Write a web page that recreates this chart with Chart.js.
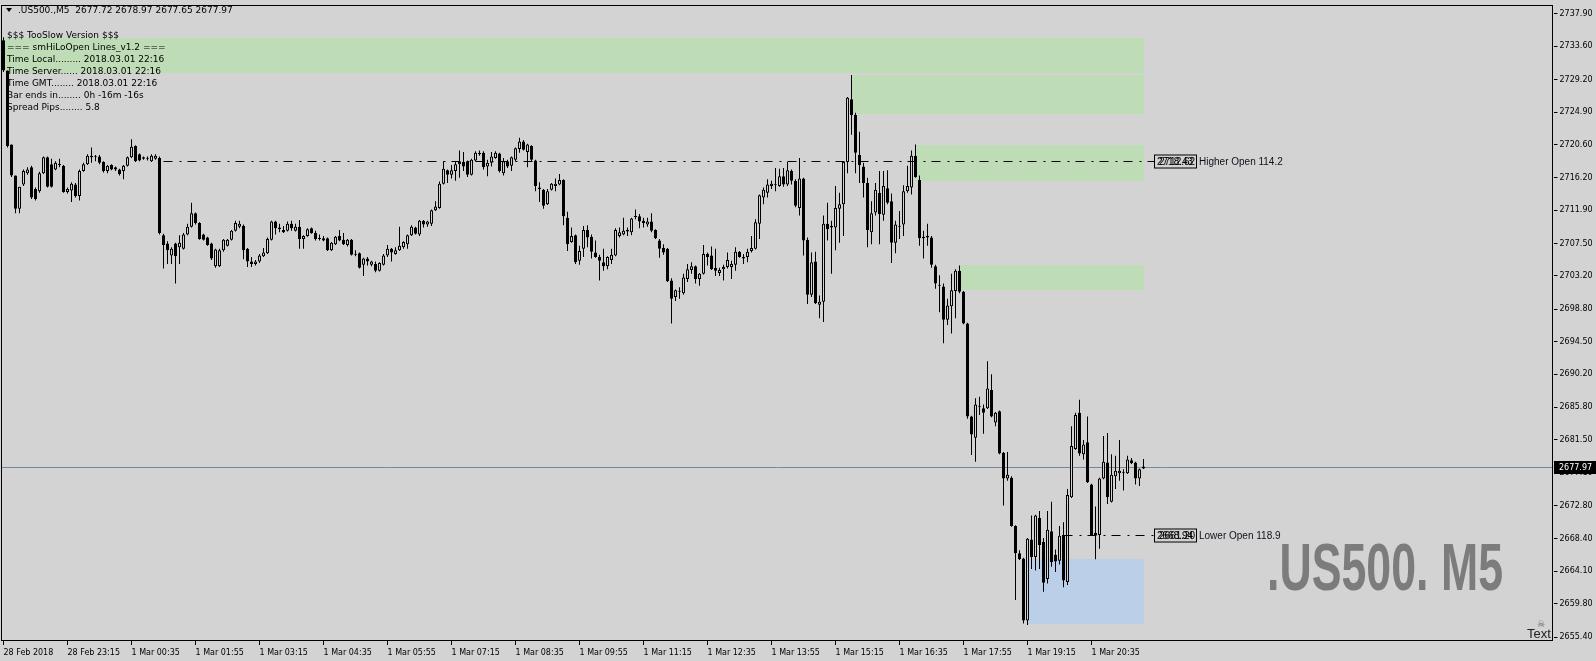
<!DOCTYPE html>
<html>
<head>
<meta charset="utf-8">
<script src="https://cdn.jsdelivr.net/npm/chart.js@4.4.0/dist/chart.umd.min.js"></script>
<style>
  html, body { margin: 0; padding: 0; background: #d3d3d3; overflow: hidden; }
  #wrap { position: relative; width: 1596px; height: 661px; }
</style>
</head>
<body>
<div id="wrap"><canvas id="chart" width="1596" height="661"></canvas></div>
<script>
/* ===== DATA ===== */
const symbolTitle = ".US500.,M5  2677.72 2678.97 2677.65 2677.97";
const watermark = ".US500. M5";

// 5 minute bars, first bar 28 Feb 2018 21:55
const opens = [
  2734.4, 2730.4, 2720.6, 2716.5, 2712.1, 2715.3, 2716.8, 2717.6, 2714.7, 2714.4,
  2716.8, 2718.9, 2718.0, 2717.3, 2718.0, 2717.8, 2714.3, 2714.5, 2715.3, 2713.8,
  2717.1, 2718.0, 2718.9, 2718.9, 2719.0, 2718.3, 2717.1, 2717.9, 2717.6, 2717.3,
  2717.1, 2717.8, 2718.9, 2720.4, 2719.3, 2718.9, 2718.7, 2718.4, 2718.7, 2718.8,
  2708.6, 2707.5, 2705.9, 2707.5, 2707.0, 2706.8, 2708.7, 2709.7, 2711.5, 2710.2,
  2708.7, 2708.3, 2707.5, 2704.5, 2704.5, 2706.6, 2707.2, 2708.0, 2709.2, 2709.7,
  2709.8, 2706.8, 2705.1, 2704.8, 2705.1, 2705.8, 2706.2, 2708.0, 2710.4, 2709.6,
  2709.3, 2709.2, 2710.1, 2709.2, 2709.7, 2708.1, 2708.5, 2709.5, 2708.9, 2708.2,
  2708.2, 2708.2, 2706.6, 2707.4, 2708.5, 2708.0, 2707.3, 2708.0, 2706.1, 2706.2,
  2704.7, 2705.5, 2704.7, 2704.8, 2703.9, 2704.7, 2705.9, 2706.8, 2706.1, 2706.6,
  2707.0, 2707.4, 2708.6, 2709.6, 2708.7, 2710.5, 2710.0, 2710.1, 2711.9, 2712.2,
  2715.4, 2717.2, 2716.6, 2717.1, 2718.0, 2718.3, 2718.4, 2716.6, 2718.5, 2719.5,
  2719.5, 2717.7, 2718.2, 2718.8, 2719.4, 2716.8, 2718.3, 2717.8, 2718.6, 2720.0,
  2721.0, 2719.6, 2720.4, 2718.5, 2714.9, 2714.6, 2712.7, 2714.6, 2715.1, 2715.3,
  2715.9, 2710.9, 2707.7, 2708.6, 2705.2, 2706.8, 2709.3, 2708.4, 2706.3, 2705.7,
  2705.0, 2704.5, 2705.3, 2705.9, 2708.5, 2708.7, 2709.1, 2709.0, 2711.0, 2711.1,
  2710.5, 2710.0, 2710.4, 2709.3, 2707.9, 2706.9, 2706.8, 2702.6, 2700.4, 2701.1,
  2700.9, 2702.8, 2704.0, 2704.5, 2702.8, 2703.5, 2706.1, 2705.9, 2704.3, 2703.6,
  2704.1, 2704.4, 2704.4, 2704.7, 2706.4, 2705.7, 2705.7, 2706.5, 2706.8, 2710.1,
  2713.6, 2714.2, 2715.1, 2715.3, 2715.1, 2716.4, 2715.3, 2717.1, 2715.8, 2712.2,
  2716.1, 2708.0, 2700.7, 2705.1, 2699.4, 2699.8, 2710.1, 2709.8, 2709.6, 2712.1,
  2712.7, 2718.3, 2726.6, 2724.5, 2719.2, 2717.7, 2715.5, 2709.0, 2711.6, 2714.2,
  2711.3, 2714.8, 2713.1, 2707.6, 2709.8, 2710.0, 2714.4, 2714.9, 2719.1, 2715.9,
  2708.4, 2708.3, 2708.3, 2704.5, 2702.0, 2701.8, 2697.4, 2699.2, 2701.2, 2703.9,
  2701.1, 2696.9, 2684.6, 2681.8, 2686.0, 2685.7, 2685.7, 2688.1, 2683.8, 2685.3,
  2679.8, 2676.4, 2676.5, 2670.1, 2666.5, 2665.8, 2657.6, 2668.3, 2666.0, 2671.2,
  2668.0, 2663.1, 2669.4, 2666.3, 2665.5, 2668.9, 2662.7, 2673.9, 2680.3, 2685.1,
  2679.6, 2681.2, 2675.6, 2669.2, 2668.9, 2676.4, 2678.5, 2673.3, 2676.7, 2677.1,
  2677.2, 2677.1, 2678.8, 2678.5, 2676.4, 2677.72
];
const highs = [
  2734.8, 2730.4, 2720.6, 2716.5, 2715.0, 2717.3, 2717.6, 2717.8, 2714.9, 2717.0,
  2719.0, 2719.0, 2718.7, 2718.4, 2718.7, 2717.9, 2714.9, 2715.6, 2715.5, 2717.3,
  2718.2, 2719.3, 2720.2, 2719.2, 2719.2, 2718.4, 2717.9, 2718.0, 2717.7, 2717.4,
  2717.9, 2719.0, 2721.3, 2720.5, 2719.4, 2719.0, 2719.0, 2719.3, 2719.3, 2719.0,
  2708.8, 2707.8, 2707.0, 2707.6, 2708.6, 2708.9, 2710.1, 2712.9, 2711.6, 2710.3,
  2708.8, 2708.4, 2707.6, 2706.8, 2706.8, 2708.1, 2708.1, 2709.3, 2710.5, 2710.5,
  2710.0, 2706.9, 2705.7, 2705.3, 2706.1, 2706.9, 2708.3, 2710.5, 2710.5, 2710.1,
  2709.8, 2710.4, 2710.5, 2710.1, 2710.6, 2708.6, 2709.5, 2709.6, 2709.2, 2708.7,
  2708.5, 2708.3, 2707.7, 2708.5, 2709.3, 2708.9, 2708.1, 2708.1, 2706.6, 2706.3,
  2705.6, 2705.7, 2705.2, 2705.1, 2705.0, 2706.1, 2707.3, 2706.9, 2707.0, 2709.7,
  2707.8, 2708.7, 2709.9, 2709.7, 2710.6, 2710.6, 2710.5, 2712.0, 2713.1, 2715.7,
  2718.4, 2717.3, 2717.9, 2718.4, 2719.8, 2719.6, 2718.5, 2718.7, 2719.7, 2719.8,
  2719.7, 2718.6, 2719.6, 2719.7, 2719.5, 2718.8, 2718.6, 2719.0, 2720.2, 2721.5,
  2721.2, 2720.7, 2720.5, 2718.6, 2715.6, 2714.7, 2714.7, 2715.5, 2716.1, 2716.7,
  2716.0, 2711.7, 2709.6, 2708.7, 2707.2, 2709.8, 2709.9, 2708.7, 2707.9, 2706.0,
  2706.8, 2705.8, 2706.8, 2709.5, 2709.6, 2710.9, 2709.6, 2710.9, 2712.0, 2711.4,
  2710.9, 2710.9, 2711.5, 2709.4, 2708.1, 2707.4, 2706.9, 2702.9, 2701.4, 2701.7,
  2703.5, 2704.8, 2705.0, 2704.6, 2703.6, 2707.3, 2706.3, 2707.1, 2706.8, 2704.3,
  2704.7, 2706.3, 2705.2, 2707.0, 2706.5, 2706.1, 2706.8, 2708.5, 2710.7, 2714.0,
  2714.9, 2716.0, 2715.8, 2717.5, 2717.4, 2717.5, 2718.3, 2717.3, 2716.0, 2718.8,
  2716.2, 2708.3, 2706.3, 2706.4, 2700.6, 2711.2, 2712.9, 2710.5, 2715.1, 2714.2,
  2718.4, 2726.9, 2729.8, 2724.8, 2722.3, 2718.2, 2716.2, 2713.1, 2715.5, 2717.1,
  2717.1, 2717.2, 2714.1, 2710.5, 2711.8, 2715.2, 2717.8, 2719.8, 2720.6, 2716.5,
  2709.2, 2710.1, 2708.5, 2704.7, 2703.3, 2702.2, 2700.2, 2703.5, 2704.1, 2704.6,
  2701.2, 2697.0, 2684.7, 2687.0, 2687.2, 2686.2, 2691.9, 2690.2, 2685.2, 2685.4,
  2679.9, 2679.9, 2676.7, 2670.2, 2666.9, 2665.9, 2668.5, 2671.5, 2671.6, 2672.1,
  2668.5, 2672.1, 2673.3, 2667.0, 2670.1, 2670.6, 2675.0, 2683.3, 2685.1, 2686.8,
  2681.5, 2684.6, 2675.7, 2672.7, 2676.5, 2682.0, 2682.4, 2679.6, 2679.4, 2681.5,
  2677.6, 2679.4, 2679.1, 2678.6, 2677.7, 2678.97
];
const lows = [
  2730.2, 2720.2, 2716.3, 2711.5, 2711.5, 2715.1, 2716.6, 2713.4, 2713.2, 2714.2,
  2716.7, 2714.9, 2714.9, 2717.2, 2717.6, 2714.2, 2714.1, 2713.0, 2713.6, 2713.2,
  2717.0, 2717.9, 2718.2, 2718.4, 2718.0, 2716.9, 2716.8, 2717.2, 2717.1, 2716.5,
  2716.0, 2717.7, 2718.8, 2718.3, 2718.4, 2718.6, 2718.5, 2718.3, 2718.6, 2708.7,
  2704.2, 2704.8, 2704.8, 2702.2, 2704.8, 2706.7, 2708.6, 2709.6, 2710.0, 2708.0,
  2707.9, 2707.2, 2705.3, 2704.3, 2704.4, 2706.4, 2707.1, 2707.9, 2709.1, 2709.5,
  2705.4, 2704.4, 2704.4, 2704.6, 2704.9, 2705.7, 2706.1, 2707.9, 2708.7, 2709.0,
  2708.9, 2709.1, 2709.2, 2709.1, 2706.8, 2706.8, 2708.4, 2708.8, 2707.9, 2707.9,
  2707.8, 2706.5, 2706.5, 2707.3, 2707.8, 2707.3, 2707.1, 2705.9, 2705.8, 2704.2,
  2703.2, 2704.6, 2704.5, 2703.7, 2703.8, 2704.6, 2705.7, 2705.1, 2706.0, 2706.5,
  2706.8, 2706.8, 2708.5, 2708.7, 2708.5, 2709.6, 2709.7, 2709.8, 2711.8, 2712.1,
  2715.3, 2715.5, 2716.1, 2715.8, 2716.2, 2717.1, 2716.3, 2716.5, 2718.4, 2719.1,
  2717.3, 2716.4, 2717.7, 2718.7, 2716.9, 2716.5, 2717.5, 2717.1, 2718.4, 2719.5,
  2719.8, 2717.6, 2718.3, 2714.4, 2713.0, 2712.1, 2712.6, 2714.5, 2714.4, 2715.2,
  2709.9, 2706.5, 2707.6, 2704.8, 2704.7, 2705.7, 2707.0, 2705.5, 2705.6, 2702.6,
  2703.9, 2704.1, 2704.8, 2705.8, 2708.3, 2708.6, 2708.5, 2708.6, 2710.7, 2709.5,
  2709.6, 2709.7, 2709.0, 2708.1, 2705.6, 2706.0, 2702.4, 2696.9, 2699.9, 2700.2,
  2700.7, 2702.4, 2703.5, 2702.2, 2701.9, 2703.4, 2704.6, 2704.0, 2703.2, 2703.2,
  2702.6, 2704.2, 2702.8, 2703.9, 2705.6, 2704.8, 2705.0, 2706.3, 2706.7, 2708.1,
  2712.7, 2713.6, 2714.7, 2714.4, 2715.0, 2715.0, 2715.1, 2715.3, 2712.3, 2711.2,
  2705.9, 2699.5, 2700.4, 2699.5, 2697.6, 2697.1, 2707.9, 2703.5, 2706.6, 2707.6,
  2708.5, 2716.8, 2721.9, 2716.8, 2715.5, 2713.6, 2707.0, 2707.4, 2711.2, 2707.4,
  2710.5, 2712.7, 2704.9, 2706.2, 2708.1, 2708.5, 2714.2, 2714.0, 2716.2, 2707.2,
  2705.5, 2707.2, 2704.3, 2701.5, 2698.4, 2694.3, 2696.7, 2695.6, 2697.6, 2700.9,
  2696.8, 2684.3, 2679.5, 2678.6, 2684.8, 2682.3, 2685.6, 2684.5, 2683.3, 2679.6,
  2672.8, 2676.1, 2670.0, 2660.3, 2665.6, 2657.2, 2657.0, 2664.4, 2664.2, 2664.4,
  2661.4, 2662.5, 2664.7, 2664.0, 2665.0, 2662.0, 2662.3, 2673.8, 2680.2, 2679.4,
  2678.9, 2675.8, 2668.8, 2665.7, 2667.1, 2676.3, 2673.0, 2673.2, 2675.0, 2676.1,
  2674.8, 2677.0, 2678.3, 2675.6, 2675.4, 2677.65
];
const closes = [
  2730.4, 2720.4, 2716.5, 2712.1, 2715.0, 2717.1, 2717.3, 2713.6, 2713.4, 2716.8,
  2718.9, 2715.0, 2715.0, 2718.2, 2717.9, 2714.3, 2714.7, 2715.4, 2713.8, 2717.1,
  2718.0, 2719.1, 2719.1, 2719.0, 2718.2, 2717.1, 2717.8, 2717.3, 2717.3, 2716.7,
  2717.8, 2718.9, 2720.3, 2718.4, 2718.5, 2718.7, 2718.8, 2719.1, 2719.1, 2708.9,
  2707.3, 2706.6, 2706.8, 2705.8, 2707.6, 2708.7, 2709.7, 2711.5, 2710.2, 2708.1,
  2708.0, 2707.3, 2705.5, 2706.7, 2706.6, 2708.0, 2708.0, 2709.2, 2710.2, 2710.1,
  2706.6, 2705.1, 2704.8, 2705.1, 2705.9, 2706.3, 2708.1, 2710.4, 2709.5, 2709.4,
  2709.0, 2710.1, 2709.5, 2709.7, 2708.1, 2708.5, 2709.4, 2708.9, 2708.1, 2708.1,
  2707.9, 2706.6, 2707.6, 2708.4, 2707.9, 2707.4, 2708.0, 2706.0, 2706.0, 2704.3,
  2705.5, 2705.1, 2705.1, 2703.9, 2704.9, 2705.9, 2706.8, 2706.3, 2706.6, 2707.2,
  2707.7, 2708.6, 2709.7, 2708.8, 2710.5, 2710.0, 2710.4, 2711.9, 2712.4, 2715.4,
  2717.4, 2716.6, 2717.2, 2718.0, 2718.3, 2717.7, 2716.6, 2718.6, 2719.5, 2719.3,
  2717.6, 2718.2, 2719.0, 2719.5, 2717.1, 2718.4, 2717.7, 2718.9, 2720.1, 2721.0,
  2719.9, 2720.6, 2718.6, 2715.1, 2714.7, 2712.5, 2714.4, 2715.4, 2715.4, 2715.9,
  2711.1, 2707.4, 2708.5, 2705.0, 2706.5, 2709.3, 2708.3, 2706.4, 2705.7, 2705.2,
  2704.5, 2705.7, 2706.0, 2709.3, 2709.0, 2709.2, 2709.3, 2710.8, 2711.1, 2710.4,
  2710.2, 2710.4, 2709.2, 2708.2, 2706.8, 2706.3, 2702.5, 2700.2, 2701.3, 2701.2,
  2703.0, 2704.1, 2704.5, 2702.8, 2703.5, 2706.1, 2705.7, 2704.1, 2703.9, 2704.0,
  2704.4, 2705.3, 2704.8, 2706.4, 2705.7, 2705.5, 2706.4, 2706.9, 2710.3, 2713.9,
  2714.6, 2715.3, 2715.4, 2715.2, 2716.4, 2715.3, 2717.2, 2715.8, 2712.5, 2716.1,
  2707.9, 2700.7, 2705.0, 2699.6, 2699.8, 2710.1, 2709.4, 2709.6, 2712.2, 2712.7,
  2718.3, 2726.8, 2724.5, 2719.5, 2717.9, 2715.5, 2709.3, 2711.5, 2714.6, 2711.4,
  2715.1, 2712.9, 2707.6, 2710.0, 2709.7, 2714.4, 2715.1, 2719.1, 2716.3, 2708.2,
  2708.2, 2708.5, 2704.7, 2702.2, 2701.9, 2697.4, 2699.3, 2701.3, 2703.9, 2701.1,
  2696.9, 2684.6, 2682.2, 2686.2, 2685.9, 2685.1, 2688.3, 2684.6, 2685.1, 2679.7,
  2676.4, 2676.9, 2670.1, 2666.5, 2665.7, 2657.6, 2668.4, 2666.0, 2671.5, 2667.6,
  2662.6, 2669.6, 2665.3, 2665.4, 2668.8, 2662.9, 2674.2, 2680.7, 2684.8, 2679.7,
  2680.9, 2675.9, 2668.9, 2668.9, 2676.4, 2678.6, 2673.9, 2676.9, 2677.4, 2677.4,
  2677.1, 2678.9, 2678.4, 2676.4, 2677.6, 2677.97
];

// time axis labels (one every 16 bars)
const timeTicks = [
  "28 Feb 2018", "28 Feb 23:15", "1 Mar 00:35", "1 Mar 01:55", "1 Mar 03:15",
  "1 Mar 04:35", "1 Mar 05:55", "1 Mar 07:15", "1 Mar 08:35", "1 Mar 09:55",
  "1 Mar 11:15", "1 Mar 12:35", "1 Mar 13:55", "1 Mar 15:15", "1 Mar 16:35",
  "1 Mar 17:55", "1 Mar 19:15", "1 Mar 20:35"
];
const priceTicks = [
  2737.9, 2733.6, 2729.2, 2724.9, 2720.6, 2716.2, 2711.9, 2707.5, 2703.2, 2698.8,
  2694.5, 2690.2, 2685.8, 2681.5, 2677.1, 2672.8, 2668.4, 2664.1, 2659.8, 2655.4
];

// supply / demand zones (bar index from/to, price high/low)
const zoneFrom = [-2, 212, 228, 239, 256];
const zoneTo = [285, 285, 285, 285, 285];
const zoneHigh = [2734.75, 2729.8, 2720.6, 2704.6, 2665.8];
const zoneLow = [2730.05, 2724.6, 2715.8, 2701.3, 2657.07];
const zoneKind = ["supply", "supply", "supply", "supply", "demand"];

// hi/lo open lines
const openLevels = [2718.43, 2668.94];
const openLevelsAlt = [2712.62, 2661.2];
const openFrom = [40, 265];
const openText = ["Higher Open 114.2", "Lower Open 118.9"];

const bidPrice = 2677.97;

const infoLines = [
  "$$$ TooSlow Version $$$",
  "=== smHiLoOpen Lines_v1.2 ===",
  "Time Local......... 2018.03.01 22:16",
  "Time Server...... 2018.03.01 22:16",
  "Time GMT........ 2018.03.01 22:16",
  "Bar ends in........ 0h -16m -16s",
  "Spread Pips........ 5.8"
];
/* ================ */

const BG = "#d3d3d3";
const GREEN = "rgb(190,221,183)";
const BLUE = "rgb(187,208,232)";
const SLOTS = 388; // visible bar slots incl. right shift

// bar times as categories
const MON = ["Jan", "Feb", "Mar"];
const categories = [];
const t0 = Date.UTC(2018, 1, 28, 21, 55);
for (let i = 0; i < SLOTS; i++) {
  const d = new Date(t0 + i * 300000);
  const hh = String(d.getUTCHours()).padStart(2, "0");
  const mm = String(d.getUTCMinutes()).padStart(2, "0");
  categories.push(`${d.getUTCDate()} ${MON[d.getUTCMonth()]} ${hh}:${mm}`);
}

const isTick = (i) => i % 16 === 0 && i / 16 < timeTicks.length;

const overlay = {
  id: "overlay",
  beforeDatasetsDraw(chart) {
    const { ctx, chartArea: a, scales: { x, y } } = chart;
    ctx.save();
    ctx.beginPath();
    ctx.rect(a.left, a.top, a.right - a.left, a.bottom - a.top);
    ctx.clip();

    // zones
    zoneFrom.forEach((f, k) => {
      const x0 = Math.round(x.getPixelForValue(f));
      const x1 = Math.round(x.getPixelForValue(zoneTo[k]));
      const y0 = Math.round(y.getPixelForValue(zoneHigh[k]));
      const y1 = Math.round(y.getPixelForValue(zoneLow[k]));
      ctx.fillStyle = zoneKind[k] === "demand" ? BLUE : GREEN;
      ctx.fillRect(x0, y0, x1 - x0, y1 - y0);
    });

    // bid line
    const yb = Math.round(y.getPixelForValue(bidPrice)) + 0.5;
    ctx.strokeStyle = "#778899";
    ctx.lineWidth = 1;
    ctx.beginPath();
    ctx.moveTo(a.left, yb);
    ctx.lineTo(a.right, yb);
    ctx.stroke();

    // watermark
    ctx.font = 'bold 66px "Liberation Sans", Arial, sans-serif';
    const w = ctx.measureText(watermark).width;
    ctx.translate(1267, 590);
    ctx.scale(236 / w, 1);
    ctx.fillStyle = "#7c7c7c";
    ctx.textBaseline = "alphabetic";
    ctx.fillText(watermark, 0, 0);
    ctx.restore();
  },
  afterDatasetsDraw(chart) {
    const { ctx, chartArea: a, scales: { x, y } } = chart;
    ctx.save();
    // open lines with label boxes
    openLevels.forEach((lvl, k) => {
      const yl = Math.round(y.getPixelForValue(lvl)) + 0.5;
      const xs = x.getPixelForValue(openFrom[k]);
      const bx = Math.round(x.getPixelForValue(287.6));
      ctx.strokeStyle = "#000";
      ctx.lineWidth = 1;
      ctx.setLineDash([9, 7, 2, 6]);
      ctx.beginPath();
      ctx.moveTo(xs, yl);
      ctx.lineTo(bx, yl);
      ctx.stroke();
      ctx.setLineDash([]);
      ctx.strokeRect(bx + 0.5, yl - 6.5, 42, 13);
      ctx.font = '10px "Liberation Sans", Arial, sans-serif';
      ctx.textBaseline = "middle";
      ctx.fillStyle = "#000";
      ctx.fillText(lvl.toFixed(2), bx + 3, yl + 0.5);
      ctx.fillText(openLevelsAlt[k].toFixed(2), bx + 5, yl + 0.5);
      ctx.fillStyle = "#10101c";
      ctx.fillText(openText[k], bx + 45, yl + 0.5);
    });
    ctx.restore();
  },
  afterDraw(chart) {
    const { ctx, chartArea: a, scales: { y } } = chart;
    ctx.save();
    // frame
    ctx.strokeStyle = "#000";
    ctx.lineWidth = 1;
    ctx.strokeRect(Math.floor(a.left) + 0.5, Math.floor(a.top) - 0.5,
      Math.round(a.right - a.left) - 1, Math.round(a.bottom - a.top) + 1);

    // bid price box on axis
    const yb = Math.round(y.getPixelForValue(bidPrice));
    ctx.fillStyle = "#000";
    ctx.fillRect(Math.round(a.right), yb - 6, 1596 - Math.round(a.right), 13);
    ctx.fillStyle = "#fff";
    ctx.font = '8px "DejaVu Sans", sans-serif';
    ctx.textBaseline = "middle";
    ctx.fillText(bidPrice.toFixed(2), Math.round(a.right) + 5, yb + 0.5);

    // header
    ctx.fillStyle = "#000";
    ctx.beginPath();
    ctx.moveTo(6, 8);
    ctx.lineTo(12, 8);
    ctx.lineTo(9, 12);
    ctx.closePath();
    ctx.fill();
    ctx.font = '9px "DejaVu Sans", sans-serif';
    ctx.fillText(symbolTitle, 18, 10.5);

    // info lines
    infoLines.forEach((s, k) => ctx.fillText(s, 7, 35.5 + k * 12.1));

    // "Text" label
    ctx.font = '13px "Liberation Sans", Arial, sans-serif';
    ctx.fillStyle = "#222";
    ctx.textBaseline = "alphabetic";
    ctx.fillText("Text", 1527, 638);
    ctx.font = '9px "DejaVu Sans", sans-serif';
    ctx.fillStyle = "#666";
    ctx.fillText("\u2620", 1537, 627);
    ctx.restore();
  }
};

new Chart(document.getElementById("chart"), {
  type: "bar",
  data: {
    labels: categories,
    datasets: [
      {
        label: "wick",
        data: lows.map((l, i) => [l, highs[i]]),
        backgroundColor: "#000",
        borderWidth: 0,
        barThickness: 1,
        grouped: false,
        inflateAmount: 0,
        order: 2
      },
      {
        label: "body",
        data: opens.map((o, i) => [o, closes[i]]),
        backgroundColor: opens.map((o, i) => (closes[i] >= o ? BG : "#000")),
        borderColor: "#000",
        borderWidth: 1,
        borderSkipped: false,
        barThickness: 3,
        minBarLength: 1,
        grouped: false,
        inflateAmount: 0,
        order: 1
      }
    ]
  },
  options: {
    responsive: false,
    animation: false,
    devicePixelRatio: 1,
    layout: { padding: { left: 1.5, top: 3, right: 0, bottom: 0 } },
    plugins: { legend: { display: false }, tooltip: { enabled: false } },
    scales: {
      x: {
        type: "category",
        offset: true,
        border: { display: false },
        grid: {
          offset: false,
          drawOnChartArea: false,
          drawTicks: true,
          tickLength: 4,
          color: (c) => (isTick(c.index) ? "#000" : "rgba(0,0,0,0)")
        },
        ticks: {
          autoSkip: false,
          maxRotation: 0,
          minRotation: 0,
          align: "start",
          padding: 3,
          color: "#000",
          font: { family: "DejaVu Sans", size: 8 },
          callback: (v, i) => (isTick(i) ? timeTicks[i / 16] : "")
        },
        afterFit: (s) => { s.height = 20; }
      },
      y: {
        position: "right",
        min: 2654.88,
        max: 2738.83,
        border: { display: false },
        afterBuildTicks: (s) => { s.ticks = priceTicks.map((v) => ({ value: v })); },
        grid: { drawOnChartArea: false, tickLength: 4, color: "#000" },
        ticks: {
          padding: 2,
          color: "#000",
          font: { family: "DejaVu Sans", size: 8 },
          callback: (v) => Number(v).toFixed(2)
        },
        afterFit: (s) => { s.width = 42.5; }
      }
    }
  },
  plugins: [overlay]
});
</script>
</body>
</html>
